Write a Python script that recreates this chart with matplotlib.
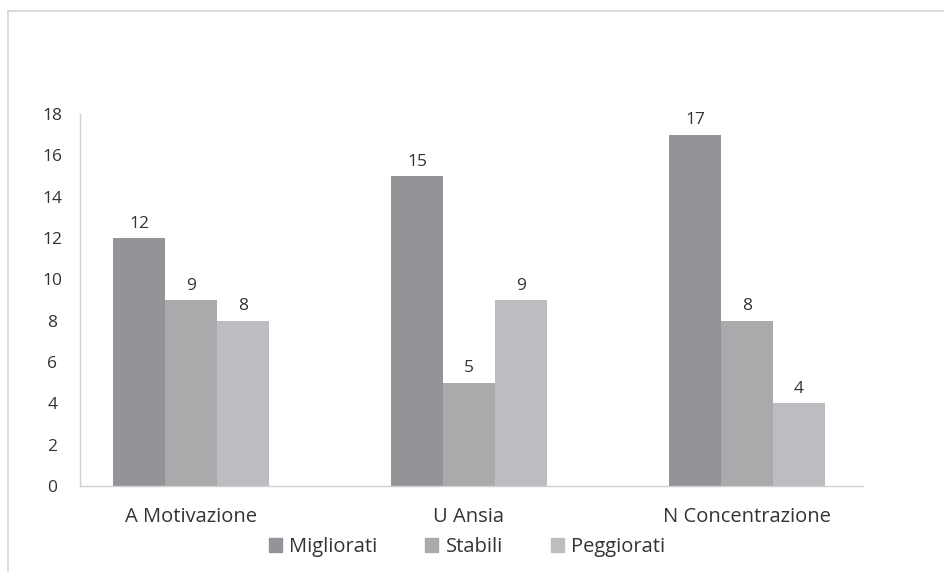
import matplotlib
matplotlib.use("Agg")
import matplotlib.pyplot as plt
import numpy as np
from matplotlib.patches import Rectangle
from matplotlib.lines import Line2D

categories = ["A Motivazione", "U Ansia", "N Concentrazione"]
series_names = ["Migliorati", "Stabili", "Peggiorati"]
migliorati = [12, 15, 17]
stabili = [9, 5, 8]
peggiorati = [8, 9, 4]
yticks = [0, 2, 4, 6, 8, 10, 12, 14, 16, 18]
colors = ["#939497", "#a9aaac", "#bcbdc0"]

plt.rcParams['font.family'] = ['Open Sans', 'DejaVu Sans']
fig = plt.figure(figsize=(9.44, 5.72), dpi=100)
W, H = 944, 572
ax = fig.add_axes([80 / W, 1 - 486 / H, (863 - 80) / W, (486 - 114) / H])

x = np.arange(len(categories))
bw = 52 / 278
for i, (vals, name) in enumerate(zip([migliorati, stabili, peggiorati], series_names)):
    xs = x + (i - 1) * bw
    ax.bar(xs, vals, width=bw, color=colors[i], label=name, linewidth=0)
    for xi, v in zip(xs, vals):
        ax.text(xi, v + 0.3, str(v), ha='center', va='bottom', fontsize=12.5, color='#333333')

ax.set_xlim((80 - 191) / 278, (863 - 191) / 278)
ax.set_ylim(0, 18)
ax.set_yticks(yticks)
ax.set_yticklabels([str(t) for t in yticks])
ax.set_xticks(x)
ax.set_xticklabels(categories)
ax.tick_params(axis='both', length=0, colors='#333333')
ax.tick_params(axis='y', labelsize=12.5, pad=20)
ax.tick_params(axis='x', labelsize=14.5, pad=15)
for s in ['top', 'right']:
    ax.spines[s].set_visible(False)
for s in ['left', 'bottom']:
    ax.spines[s].set_color('#d0d0d0')
    ax.spines[s].set_linewidth(1)
for lab in ax.get_yticklabels():
    lab.set_horizontalalignment('center')

handles = [Rectangle((0, 0), 1, 1, color=c) for c in colors]
fig.legend(handles, series_names, loc='center', bbox_to_anchor=(467 / W, 1 - 547 / H), ncol=3,
           frameon=False, fontsize=14.5, handlelength=0.65, handleheight=0.65, handletextpad=0.35,
           columnspacing=2.4, labelcolor='#333333')

# outer frame
fig.add_artist(Line2D([8 / W, 1], [1 - 11 / H, 1 - 11 / H], color='#d4d4d4', lw=1.2, transform=fig.transFigure))
fig.add_artist(Line2D([8 / W, 8 / W], [1 - 11 / H, 0], color='#d4d4d4', lw=1.2, transform=fig.transFigure))

fig.savefig("out.png", dpi=100, facecolor='white')
